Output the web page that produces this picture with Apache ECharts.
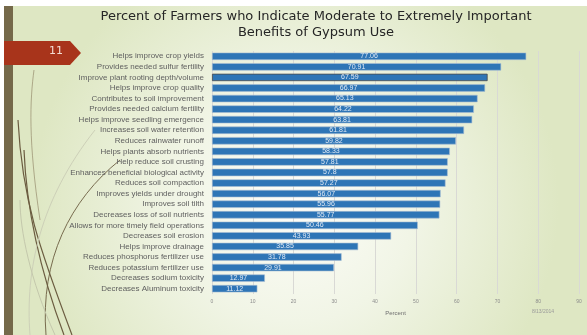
<!DOCTYPE html>
<html>
<head>
<meta charset="utf-8">
<script src="https://cdn.jsdelivr.net/npm/echarts@6/dist/echarts.min.js"></script>
<style>
  html, body { margin: 0; padding: 0; background: #ffffff; }
  #chart { width: 587px; height: 335px; }
</style>
</head>
<body>
<div id="chart"></div>
<script>
// benefit categories, top to bottom
const categories = [
  'Helps improve crop yields',
  'Provides needed sulfur fertility',
  'Improve plant rooting depth/volume',
  'Helps improve crop quality',
  'Contributes to soil improvement',
  'Provides needed calcium fertility',
  'Helps improve seedling emergence',
  'Increases soil water retention',
  'Reduces rainwater runoff',
  'Helps plants absorb nutrients',
  'Help reduce soil crusting',
  'Enhances beneficial biological activity',
  'Reduces soil compaction',
  'Improves yields under drought',
  'Improves soil tilth',
  'Decreases loss of soil nutrients',
  'Allows for more timely field operations',
  'Decreases soil erosion',
  'Helps improve drainage',
  'Reduces phosphorus fertilizer use',
  'Reduces potassium fertilizer use',
  'Decreases sodium toxicity',
  'Decreases Aluminum toxicity'
];

const percentValues = [
  77.06, 70.91, 67.59, 66.97, 65.13, 64.22, 63.81, 61.81, 59.82, 58.33,
  57.81, 57.8, 57.27, 56.07, 55.96, 55.77, 50.46, 43.93, 35.85, 31.78,
  29.91, 12.97, 11.12
];

const slideNumber = '11';
const dateText = '8/13/2014';

const chart = echarts.init(document.getElementById('chart'));

// the selected bar in the original has a dark outline
const barData = percentValues.map((v, i) => i === 2
  ? { value: v, itemStyle: { borderColor: '#4a4a4a', borderWidth: 0.8 } }
  : v);

const curve = (x1, y1, cx1, cy1, cx2, cy2, x2, y2, color, w) => ({
  type: 'bezierCurve',
  silent: true,
  shape: { x1, y1, cpx1: cx1, cpy1: cy1, cpx2: cx2, cpy2: cy2, x2, y2 },
  style: { stroke: color, lineWidth: w, fill: null }
});

const option = {
  animation: false,
  backgroundColor: '#ffffff',
  graphic: [
    {
      type: 'rect', silent: true, z: -10,
      shape: { x: 4, y: 6, width: 583, height: 329 },
      style: {
        fill: new echarts.graphic.RadialGradient(0.5, 0.6, 0.8, [
          { offset: 0, color: '#fdfdf9' },
          { offset: 0.45, color: '#f1f5e6' },
          { offset: 1, color: '#dee7c3' }
        ])
      }
    },
    // decorative curves on the left
    curve(72, 335, 40, 250, 22, 200, 18, 120, '#6b5c40', 1.2),
    curve(64, 335, 36, 260, 26, 200, 24, 150, '#6b5c40', 1.2),
    curve(46, 335, 40, 260, 70, 200, 120, 160, '#6b5c40', 0.9),
    curve(34, 70, 30, 100, 28, 140, 40, 220, '#8a7c5e', 0.6),
    curve(30, 335, 25, 270, 40, 200, 95, 130, '#cdd0b8', 1),
    curve(55, 335, 30, 280, 20, 230, 20, 200, '#c4c8ac', 1),
    {
      type: 'rect', silent: true, z: 5,
      shape: { x: 4, y: 6, width: 9, height: 329 },
      style: { fill: '#75694a' }
    },
    {
      type: 'polygon', silent: true, z: 6,
      shape: { points: [[4, 41], [70, 41], [81, 53], [70, 65], [4, 65]] },
      style: { fill: '#a8341b' }
    },
    {
      type: 'text', silent: true, z: 7,
      left: 49, top: 46,
      style: { text: slideNumber, fill: '#f3dcd2', font: '11px "DejaVu Sans"' }
    },
    {
      type: 'text', silent: true, z: 7,
      style: {
        x: 316, y: 9,
        text: 'Percent of Farmers who Indicate Moderate to Extremely Important\nBenefits of Gypsum Use',
        align: 'center',
        fill: '#262626',
        font: '13px "DejaVu Sans"',
        lineHeight: 16
      }
    },
    {
      type: 'text', silent: true,
      style: {
        x: 543, y: 312, text: dateText, align: 'center', verticalAlign: 'middle',
        fill: '#9a9a9a', font: '5px "Liberation Sans"'
      }
    }
  ],
  grid: { left: 212, right: 8, top: 51, bottom: 41, containLabel: false },
  xAxis: {
    type: 'value',
    min: 0, max: 90, interval: 10,
    name: 'Percent',
    nameLocation: 'middle',
    nameGap: 16,
    nameTextStyle: { color: '#6f6f6f', fontSize: 6, fontFamily: 'Liberation Sans' },
    axisLine: { show: false },
    axisTick: { show: false },
    axisLabel: { color: '#8c8c8c', fontSize: 5, fontFamily: 'Liberation Sans', margin: 5 },
    splitLine: { show: true, lineStyle: { color: '#d9d9d5', width: 1 } }
  },
  yAxis: {
    type: 'category',
    inverse: true,
    data: categories,
    axisLine: { show: false },
    axisTick: { show: false },
    axisLabel: {
      color: '#5f5f5f', fontSize: 8, margin: 8,
      fontFamily: '"Liberation Sans Narrow", "Liberation Sans", sans-serif'
    }
  },
  series: [
    {
      type: 'bar',
      data: barData,
      barCategoryGap: '30%',
      itemStyle: { color: '#2e75b6', borderColor: '#a7bdd4', borderWidth: 0.6 },
      label: {
        show: true,
        position: 'inside',
        color: '#dfe9f5',
        fontSize: 7,
        fontFamily: 'Liberation Sans'
      }
    }
  ]
};

chart.setOption(option);
</script>
</body>
</html>
